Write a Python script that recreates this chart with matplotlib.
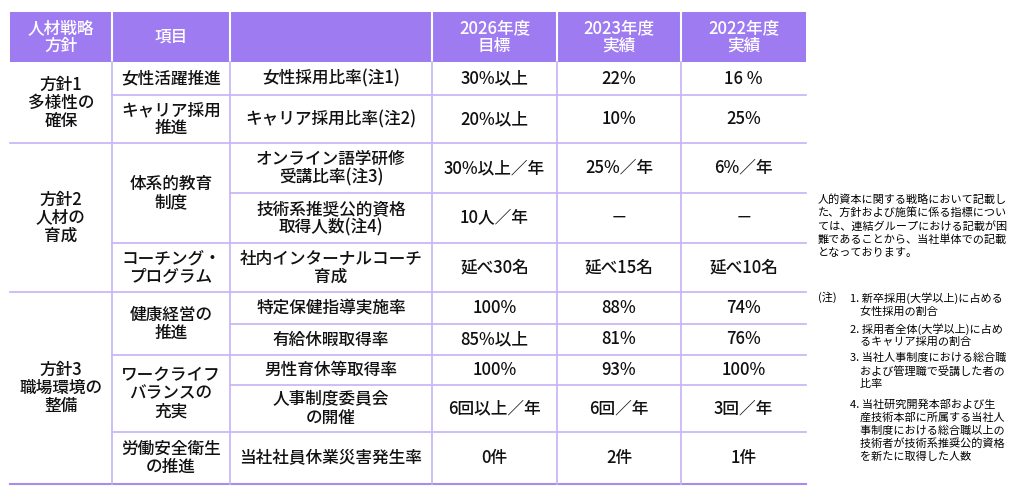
import matplotlib
matplotlib.use("Agg")
import matplotlib.pyplot as plt

plt.rcParams["font.family"] = "Noto Sans CJK JP"

headers = ["人材戦略\n方針", "項目", "", "2026年度\n目標", "2023年度\n実績", "2022年度\n実績"]
policies = ["方針1\n多様性の\n確保", "方針2\n人材の\n育成", "方針3\n職場環境の\n整備"]
policy_spans = [(0, 2), (2, 5), (5, 10)]
items = ["女性活躍推進", "キャリア採用\n推進", "体系的教育\n制度", "コーチング・\nプログラム",
         "健康経営の\n推進", "ワークライフ\nバランスの\n充実", "労働安全衛生\nの推進"]
item_spans = [(0, 1), (1, 2), (2, 4), (4, 5), (5, 7), (7, 9), (9, 10)]
indicators = ["女性採用比率(注1)", "キャリア採用比率(注2)", "オンライン語学研修\n受講比率(注3)",
              "技術系推奨公的資格\n取得人数(注4)", "社内インターナルコーチ\n育成", "特定保健指導実施率",
              "有給休暇取得率", "男性育休等取得率", "人事制度委員会\nの開催", "当社社員休業災害発生率"]
target_2026 = ["30%以上", "20%以上", "30%以上／年", "10人／年", "延べ30名", "100%",
               "85%以上", "100%", "6回以上／年", "0件"]
actual_2023 = ["22%", "10%", "25%／年", "－", "延べ15名", "88%", "81%", "93%", "6回／年", "2件"]
actual_2022 = ["16 %", "25%", "6%／年", "－", "延べ10名", "74%", "76%", "100%", "3回／年", "1件"]
note_main = "人的資本に関する戦略において記載し\nた、方針および施策に係る指標につい\nては、連結グループにおける記載が困\n難であることから、当社単体での記載\nとなっております。"
note_items = ["1. 新卒採用(大学以上)に占める\n    女性採用の割合",
              "2. 採用者全体(大学以上)に占め\n    るキャリア採用の割合",
              "3. 当社人事制度における総合職\n    および管理職で受講した者の\n    比率",
              "4. 当社研究開発本部および生\n    産技術本部に所属する当社人\n    事制度における総合職以上の\n    技術者が技術系推奨公的資格\n    を新たに取得した人数"]

HEAD = "#9f7bf2"
LINE = "#c7b3f5"
xs = [10, 112, 230, 432, 557, 681, 806]
ys = [62, 95, 143, 193, 243, 292, 324, 355, 385, 432, 484]
FS = 12
W = "medium"

fig = plt.figure(figsize=(10.29, 4.99), dpi=100)
ax = fig.add_axes([0, 0, 1, 1])
ax.set_xlim(0, 1029); ax.set_ylim(499, 0); ax.axis("off")

ax.add_patch(plt.Rectangle((10, 12), 796, 50, color=HEAD, lw=0))
for i, h in enumerate(headers):
    ax.text((xs[i] + xs[i + 1]) / 2, 37, h, color="white", ha="center", va="center",
            fontsize=FS, linespacing=1.0, fontweight=W)
for x in xs[1:-1]:
    ax.plot([x, x], [12, 62], color="white", lw=1.5)

def cell(col, r0, r1, txt):
    ax.text((xs[col] + xs[col + 1]) / 2, (ys[r0] + ys[r1]) / 2, txt, ha="center",
            va="center", fontsize=FS, linespacing=1.0, color="#111111", fontweight=W)

for (a, b), t in zip(policy_spans, policies):
    cell(0, a, b, t)
for (a, b), t in zip(item_spans, items):
    cell(1, a, b, t)
for r in range(10):
    cell(2, r, r + 1, indicators[r])
    cell(3, r, r + 1, target_2026[r])
    cell(4, r, r + 1, actual_2023[r])
    cell(5, r, r + 1, actual_2022[r])

pol_bounds = {a for a, b in policy_spans}
item_bounds = {a for a, b in item_spans}
for r in range(1, 10):
    y = ys[r]
    x0 = xs[0] if r in pol_bounds else (xs[1] if r in item_bounds else xs[2])
    ax.plot([x0, xs[-1]], [y, y], color=LINE, lw=1.2)
ax.plot([xs[0], xs[-1]], [ys[-1], ys[-1]], color="#a98bf0", lw=1.5)
for x in xs[1:-1]:
    ax.plot([x, x], [62, 484], color=LINE, lw=1.2)

NF = 8
ax.text(818, 194, note_main, fontsize=NF, va="top", ha="left", linespacing=1.3)
ax.text(818, 292, "(注)", fontsize=NF, va="top", ha="left")
ys_note = [292, 323, 353, 399]
for y, t in zip(ys_note, note_items):
    ax.text(850, y, t, fontsize=NF, va="top", ha="left", linespacing=1.3)

fig.savefig("out.png", dpi=100)
